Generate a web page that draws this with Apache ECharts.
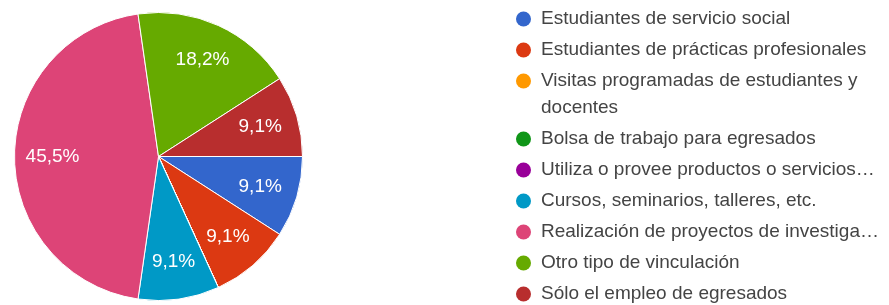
<!DOCTYPE html>
<html>
<head>
<meta charset="utf-8">
<script src="https://cdn.jsdelivr.net/npm/echarts@6/dist/echarts.min.js"></script>
<style>
  html, body { margin: 0; padding: 0; background: #fff; }
  #chart { width: 889px; height: 305px; }
</style>
</head>
<body>
<div id="chart"></div>
<script>
// respuestas por tipo de vinculación
const categories = [
  'Estudiantes de servicio social',
  'Estudiantes de prácticas profesionales',
  'Visitas programadas de estudiantes y\ndocentes',
  'Bolsa de trabajo para egresados',
  'Utiliza o provee productos o servicios…',
  'Cursos, seminarios, talleres, etc.',
  'Realización de proyectos de investiga…',
  'Otro tipo de vinculación',
  'Sólo el empleo de egresados'
];
const values = [1, 1, 0, 0, 0, 1, 5, 2, 1];

const total = values.reduce((a, b) => a + b, 0);
const pieData = categories.map((name, i) => ({ name: name, value: values[i] }));

const chart = echarts.init(document.getElementById('chart'));

const fmtPct = function (p) {
  if (!p.value) return '';
  return (Math.round(p.value / total * 1000) / 10).toFixed(1).replace('.', ',') + '%';
};

const legendText = {
  color: '#444',
  fontSize: 19,
  fontFamily: 'Liberation Sans, Arial, sans-serif',
  lineHeight: 27,
  padding: [0, 0, 0, 5]
};

const baseLegend = {
  orient: 'vertical',
  left: 516,
  padding: 0,
  itemGap: 4,
  itemWidth: 15,
  itemHeight: 15,
  icon: 'circle',
  selectedMode: false,
  itemStyle: { borderWidth: 0 },
  textStyle: legendText
};

const option = {
  animation: false,
  color: ['#3366cc', '#dc3912', '#ff9900', '#109618', '#990099', '#0099c6', '#dd4477', '#66aa00', '#b82e2e'],
  legend: [
    Object.assign({}, baseLegend, {
      top: 5.5,
      data: categories.slice(0, 2)
    }),
    Object.assign({}, baseLegend, {
      top: 40.5,
      // wrapped entry: empty first line so the dot sits on the first text line
      formatter: name => name.indexOf('\n') >= 0 ? '\n' + name : name,
      data: categories.slice(2)
    })
  ],
  series: [
    {
      name: 'Vinculación',
      type: 'pie',
      center: [158.5, 156.5],
      radius: [0, 144],
      startAngle: 0,
      clockwise: true,
      silent: true,
      itemStyle: { borderColor: '#fff', borderWidth: 1 },
      label: { show: false },
      labelLine: { show: false },
      data: pieData
    },
    {
      // transparent ring that only carries the percentage labels
      name: 'Etiquetas',
      type: 'pie',
      center: [158.5, 156.5],
      radius: [62, 144],
      startAngle: 0,
      clockwise: true,
      silent: true,
      itemStyle: { color: 'rgba(0,0,0,0)', borderWidth: 0 },
      label: {
        show: true,
        position: 'inside',
        formatter: fmtPct,
        color: '#fff',
        fontSize: 19,
        fontFamily: 'Liberation Sans, Arial, sans-serif'
      },
      labelLine: { show: false },
      data: pieData
    }
  ]
};

chart.setOption(option);
</script>
</body>
</html>
